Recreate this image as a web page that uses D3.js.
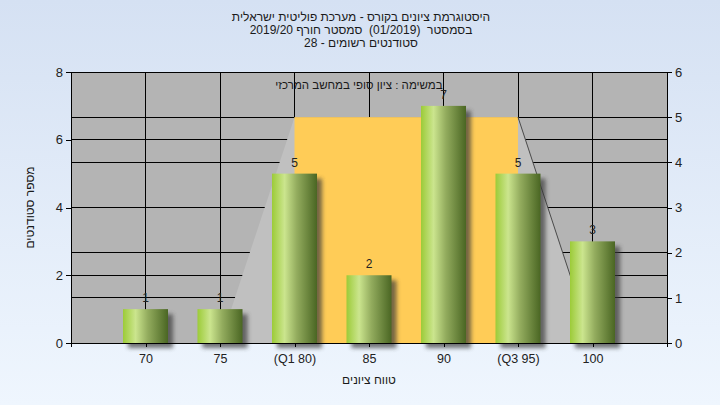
<!DOCTYPE html>
<html><head><meta charset="utf-8">
<script src="https://cdn.jsdelivr.net/npm/d3@7"></script>
<style>html,body{margin:0;padding:0;background:#e4edf9;}svg{display:block;} text{white-space:pre;}</style>
</head><body>
<script>
const titleLines = ["היסטוגרמת ציונים בקורס - מערכת פוליטית ישראלית", "בסמסטר  (01/2019)  סמסטר חורף 2019/20", "סטודנטים רשומים - 28"];
const categories = ["70", "75", "(Q1 80)", "85", "90", "(Q3 95)", "100"];
const counts = [1, 1, 5, 2, 7, 5, 3];
const leftTicks = [0, 2, 4, 6, 8];
const rightTicks = [0, 1, 2, 3, 4, 5, 6];
const shapeCats = ["75", "(Q1 80)", "(Q3 95)", "100"];
const shapeLevels = [0, 5, 5, 0];
const note = "במשימה : ציון סופי במחשב המרכזי";
const xTitle = "טווח ציונים";
const yTitle = "מספר סטודנטים";

const W = 720, H = 405;
const L = 71, R = 667, T = 72, B = 343;
const font = "'Liberation Sans', Arial, sans-serif";

const svg = d3.select("body").append("svg").attr("width", W).attr("height", H);
const defs = svg.append("defs");
const bg = defs.append("linearGradient").attr("id", "bg").attr("x1", 0).attr("y1", 0).attr("x2", 0).attr("y2", 1);
bg.append("stop").attr("offset", 0).attr("stop-color", "#d5e1f3");
bg.append("stop").attr("offset", 1).attr("stop-color", "#eff6fe");
const bar = defs.append("linearGradient").attr("id", "bar").attr("x1", 0).attr("y1", 0).attr("x2", 1).attr("y2", 0);
[[0, "#9ccb38"], [0.28, "#cbe58e"], [0.55, "#93ac5e"], [1, "#4a6623"]].forEach(s =>
  bar.append("stop").attr("offset", s[0]).attr("stop-color", s[1]));
const blur = defs.append("filter").attr("id", "blur").attr("x", "-30%").attr("y", "-30%").attr("width", "160%").attr("height", "160%");
blur.append("feGaussianBlur").attr("stdDeviation", 2);

svg.append("rect").attr("width", W).attr("height", H).attr("fill", "url(#bg)");

const x = d3.scalePoint().domain(categories).range([L, R]).padding(1);
const yL = d3.scaleLinear().domain([0, 8]).range([B, T]);
const yR = d3.scaleLinear().domain([0, 6]).range([B, T]);

// plot background
svg.append("rect").attr("x", L).attr("y", T).attr("width", R - L).attr("height", B - T).attr("fill", "#b4b4b4");

// gridlines
const grid = svg.append("g").attr("stroke", "#000").attr("stroke-width", 1).attr("shape-rendering", "crispEdges");
leftTicks.forEach(v => grid.append("line").attr("x1", L).attr("x2", R).attr("y1", yL(v)).attr("y2", yL(v)));
rightTicks.forEach(v => grid.append("line").attr("x1", L).attr("x2", R).attr("y1", yR(v)).attr("y2", yR(v)));
categories.forEach(c => grid.append("line").attr("x1", x(c)).attr("x2", x(c)).attr("y1", T).attr("y2", B));

// shape (range polygon)
const pts = shapeCats.map((c, i) => [x(c), yR(shapeLevels[i])]);
svg.append("path").attr("d", d3.line()(pts) + "Z").attr("fill", "#c0c0c0");
svg.append("rect").attr("x", pts[1][0]).attr("y", pts[1][1]).attr("width", pts[2][0] - pts[1][0])
  .attr("height", yR(0) - pts[1][1]).attr("fill", "#ffcc57");
svg.append("line").attr("x1", pts[2][0]).attr("y1", pts[2][1]).attr("x2", pts[3][0]).attr("y2", pts[3][1])
  .attr("stroke", "#4a4a4a").attr("stroke-width", 1);

// bars
const bw = 45;
const gb = svg.append("g");
gb.selectAll(".sh").data(counts).join("rect")
  .attr("x", (d, i) => x(categories[i]) - bw / 2 + 5).attr("y", d => yL(d) + 5)
  .attr("width", bw).attr("height", d => yL(0) - yL(d))
  .attr("fill", "#3a3a3a").attr("opacity", 0.7).attr("filter", "url(#blur)");
gb.selectAll(".b").data(counts).join("rect")
  .attr("x", (d, i) => x(categories[i]) - bw / 2).attr("y", d => yL(d))
  .attr("width", bw).attr("height", d => yL(0) - yL(d)).attr("fill", "url(#bar)");

// plot border / axis lines
svg.append("rect").attr("x", L).attr("y", T).attr("width", R - L).attr("height", B - T)
  .attr("fill", "none").attr("stroke", "#000").attr("shape-rendering", "crispEdges");

// value labels
svg.append("g").selectAll("text").data(counts).join("text")
  .attr("x", (d, i) => x(categories[i])).attr("y", d => yL(d) - 7)
  .attr("text-anchor", "middle").attr("font-family", font).attr("font-size", 12).attr("fill", "#222")
  .text(d => d);

// axes
const axL = svg.append("g").attr("transform", `translate(${L},0)`)
  .call(d3.axisLeft(yL).tickValues(leftTicks).tickSize(5).tickPadding(3).tickFormat(d3.format("d")));
const axR = svg.append("g").attr("transform", `translate(${R},0)`)
  .call(d3.axisRight(yR).tickValues(rightTicks).tickSize(5).tickPadding(3).tickFormat(d3.format("d")));
const axB = svg.append("g").attr("transform", `translate(0,${B})`)
  .call(d3.axisBottom(x).tickSize(4).tickPadding(7));
axB.append("line").attr("x1", L).attr("x2", L).attr("y1", 0).attr("y2", 4).attr("stroke", "#000");
axB.append("line").attr("x1", R).attr("x2", R).attr("y1", 0).attr("y2", 4).attr("stroke", "#000");
[axL, axR, axB].forEach(a => {
  a.select(".domain").remove();
  a.selectAll("line").attr("stroke", "#000").attr("shape-rendering", "crispEdges");
  a.selectAll("text").attr("font-family", font).attr("font-size", 13).attr("fill", "#222");
});
axB.selectAll("text").attr("font-size", 12.5);

// titles
svg.append("g").selectAll("text").data(titleLines).join("text")
  .attr("x", 361).attr("y", (d, i) => 21 + i * 13)
  .attr("text-anchor", "middle").attr("direction", "rtl")
  .attr("font-family", font).attr("font-size", 12).attr("fill", "#1a1a1a").text(d => d);

svg.append("text").attr("x", 359).attr("y", 89).attr("text-anchor", "middle").attr("direction", "rtl")
  .attr("font-family", font).attr("font-size", 11.5).attr("fill", "#1a1a1a").text(note);

svg.append("text").attr("x", (L + R) / 2).attr("y", 384).attr("text-anchor", "middle").attr("direction", "rtl")
  .attr("font-family", font).attr("font-size", 12).attr("fill", "#1a1a1a").text(xTitle);

svg.append("text").attr("transform", `translate(34,${(T + B) / 2}) rotate(-90)`).attr("text-anchor", "middle")
  .attr("direction", "rtl").attr("font-family", font).attr("font-size", 12).attr("fill", "#1a1a1a").text(yTitle);
</script>
</body></html>
